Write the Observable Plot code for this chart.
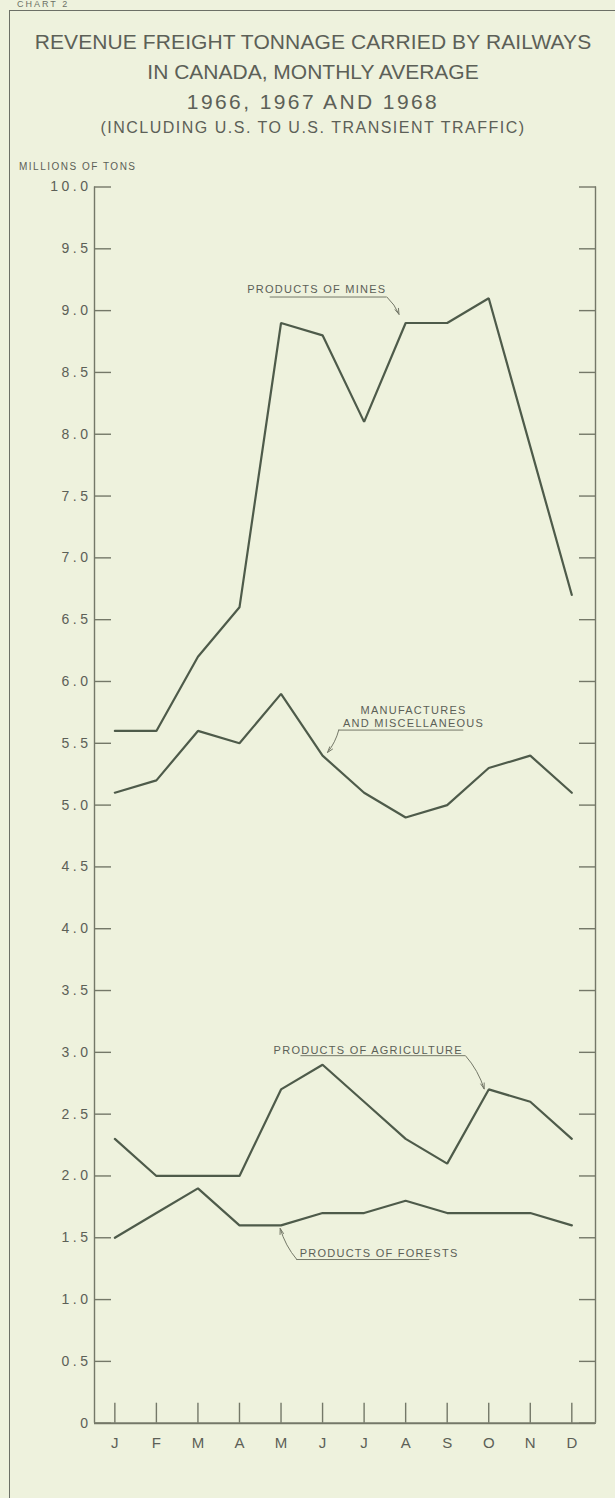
<!DOCTYPE html>
<html>
<head>
<meta charset="utf-8">
<script src="https://cdn.jsdelivr.net/npm/d3@7"></script>
<script src="https://cdn.jsdelivr.net/npm/@observablehq/plot@0.6"></script>
<style>
  html, body { margin: 0; padding: 0; background: #eef2dd; }
  #page { position: relative; width: 615px; height: 1498px; overflow: hidden; background: #eef2dd;
          font-family: "Liberation Sans", Arial, sans-serif; color: #5c6057; }
  .border { position: absolute; left: 9px; top: 10px; width: 700px; height: 1600px;
            border-left: 1.6px solid #6c7066; border-top: 1.6px solid #6c7066; }
  .t { position: absolute; left: 0; width: 626px; text-align: center; white-space: nowrap; line-height: 1; }
  #chartno { position: absolute; left: 17px; top: 0px; font-size: 9px; line-height: 1; letter-spacing: 2px; color: #6c7066; }
  #t1 { top: 31px; font-size: 21px; letter-spacing: 0.1px; }
  #t2 { top: 61px; font-size: 21px; letter-spacing: 0px; }
  #t3 { top: 91px; font-size: 21px; letter-spacing: 2.4px; }
  #t4 { top: 120px; font-size: 16px; letter-spacing: 1.5px; }
  #units { position: absolute; left: 19px; top: 161px; font-size: 10px; letter-spacing: 1.5px; white-space: nowrap; }
  #chart { position: absolute; left: 0; top: 176px; }
</style>
</head>
<body>
<div id="page">
  <div id="chartno">CHART 2</div>
  <div class="border"></div>
  <div class="t" id="t1">REVENUE FREIGHT TONNAGE CARRIED BY RAILWAYS</div>
  <div class="t" id="t2">IN CANADA, MONTHLY AVERAGE</div>
  <div class="t" id="t3">1966, 1967 AND 1968</div>
  <div class="t" id="t4">(INCLUDING U.S. TO U.S. TRANSIENT TRAFFIC)</div>
  <div id="units">MILLIONS OF TONS</div>
  <div id="chart"></div>
</div>
<script>
// ---- data ----
const months = ["J","F","M","A","M","J","J","A","S","O","N","D"];
const mines        = [5.6, 5.6, 6.2, 6.6, 8.9, 8.8, 8.1, 8.9, 8.9, 9.1, 7.9, 6.7];
const manufactures = [5.1, 5.2, 5.6, 5.5, 5.9, 5.4, 5.1, 4.9, 5.0, 5.3, 5.4, 5.1];
const agriculture  = [2.3, 2.0, 2.0, 2.0, 2.7, 2.9, 2.6, 2.3, 2.1, 2.7, 2.6, 2.3];
const forests      = [1.5, 1.7, 1.9, 1.6, 1.6, 1.7, 1.7, 1.8, 1.7, 1.7, 1.7, 1.6];
const yTicks = [0, 0.5, 1, 1.5, 2, 2.5, 3, 3.5, 4, 4.5, 5, 5.5, 6, 6.5, 7, 7.5, 8, 8.5, 9, 9.5, 10];
const seriesNames = ["PRODUCTS OF MINES", "MANUFACTURES\nAND MISCELLANEOUS", "PRODUCTS OF AGRICULTURE", "PRODUCTS OF FORESTS"];

// annotation label placement (in data units: month index, millions of tons)
const labelX  = [4.86, 7.19, 6.10, 6.36];
const labelY  = [9.175, 5.72, 3.02, 1.383];
const lineX1  = [3.74, 5.39, 4.48, 4.38];
const lineX2  = [6.55, 8.40, 8.44, 7.58];
const lineY   = [9.11, 5.607, 2.973, 1.324];
const arrowX1 = [6.55, 5.39, 8.44, 4.38];
const arrowX2 = [6.84, 5.12, 8.89, 3.98];
const arrowY2 = [8.97, 5.426, 2.704, 1.575];

// ---- build table ----
const allSeries = [mines, manufactures, agriculture, forests];
const rows = [];
allSeries.forEach((vals, s) => vals.forEach((v, i) => rows.push({series: s, month: i, value: v})));
const annots = seriesNames.map((name, s) => ({
  name, lx: labelX[s], ly: labelY[s], x1: lineX1[s], x2: lineX2[s], y: lineY[s],
  ax1: arrowX1[s], ay1: lineY[s], ax2: arrowX2[s], ay2: arrowY2[s]
}));
const monthIdx = months.map((m, i) => i);
const xDomain = [-0.49, 11.57];

const ink = "#4e5b4a";
const axisInk = "#747868";
const textInk = "#5c6057";

const chart = Plot.plot({
  width: 615,
  height: 1322,
  marginLeft: 94,
  marginRight: 20,
  marginTop: 10.5,
  marginBottom: 75.3,
  style: {background: "transparent", fontFamily: "'Liberation Sans', Arial, sans-serif", color: textInk},
  x: {domain: xDomain, axis: null},
  y: {domain: [0, 10], axis: null},
  marks: [
    // frame: left / right verticals and baseline
    Plot.ruleX(xDomain, {stroke: axisInk, strokeWidth: 1.4}),
    Plot.ruleY([0], {stroke: axisInk, strokeWidth: 2}),
    // y axis ticks on both sides, pointing inward
    Plot.axisY(yTicks, {anchor: "left", tickSize: 17, insetLeft: 17, tickPadding: 6,
      tickFormat: d => d === 0 ? "0" : d.toFixed(1), fontSize: 14, stroke: axisInk, strokeWidth: 1.4, fill: textInk}),
    Plot.axisY(yTicks, {anchor: "right", tickSize: 17, insetRight: 17, tickFormat: () => "",
      stroke: axisInk, strokeWidth: 1.4}),
    // x axis ticks pointing up from baseline
    Plot.axisX(monthIdx, {anchor: "bottom", tickSize: 20, insetBottom: 20, tickPadding: 14,
      tickFormat: i => months[i], fontSize: 15, stroke: axisInk, strokeWidth: 1.4, fill: textInk}),
    // series
    Plot.line(rows, {x: "month", y: "value", z: "series", stroke: ink, strokeWidth: 2.2, strokeLinejoin: "miter"}),
    // annotations
    Plot.text(annots, {x: "lx", y: "ly", text: "name", fontSize: 11, fill: textInk, lineHeight: 1.25}),
    Plot.ruleY(annots, {y: "y", x1: "x1", x2: "x2", stroke: axisInk, strokeWidth: 1}),
    Plot.arrow(annots, {x1: "ax1", y1: "ay1", x2: "ax2", y2: "ay2", bend: 12, stroke: axisInk,
      strokeWidth: 1, headLength: 9, headAngle: 35})
  ]
});
document.getElementById("chart").appendChild(chart);

// typographic spacing like the original lettering
d3.select(chart).selectAll("g[aria-label='y-axis tick label'] text").attr("letter-spacing", "3.5px").attr("dx", "3");
d3.select(chart).selectAll("g[aria-label='x-axis tick label'] text").attr("letter-spacing", "0px");
d3.select(chart).selectAll("g[aria-label='text'] text").attr("letter-spacing", "1.25px");
</script>
</body>
</html>
